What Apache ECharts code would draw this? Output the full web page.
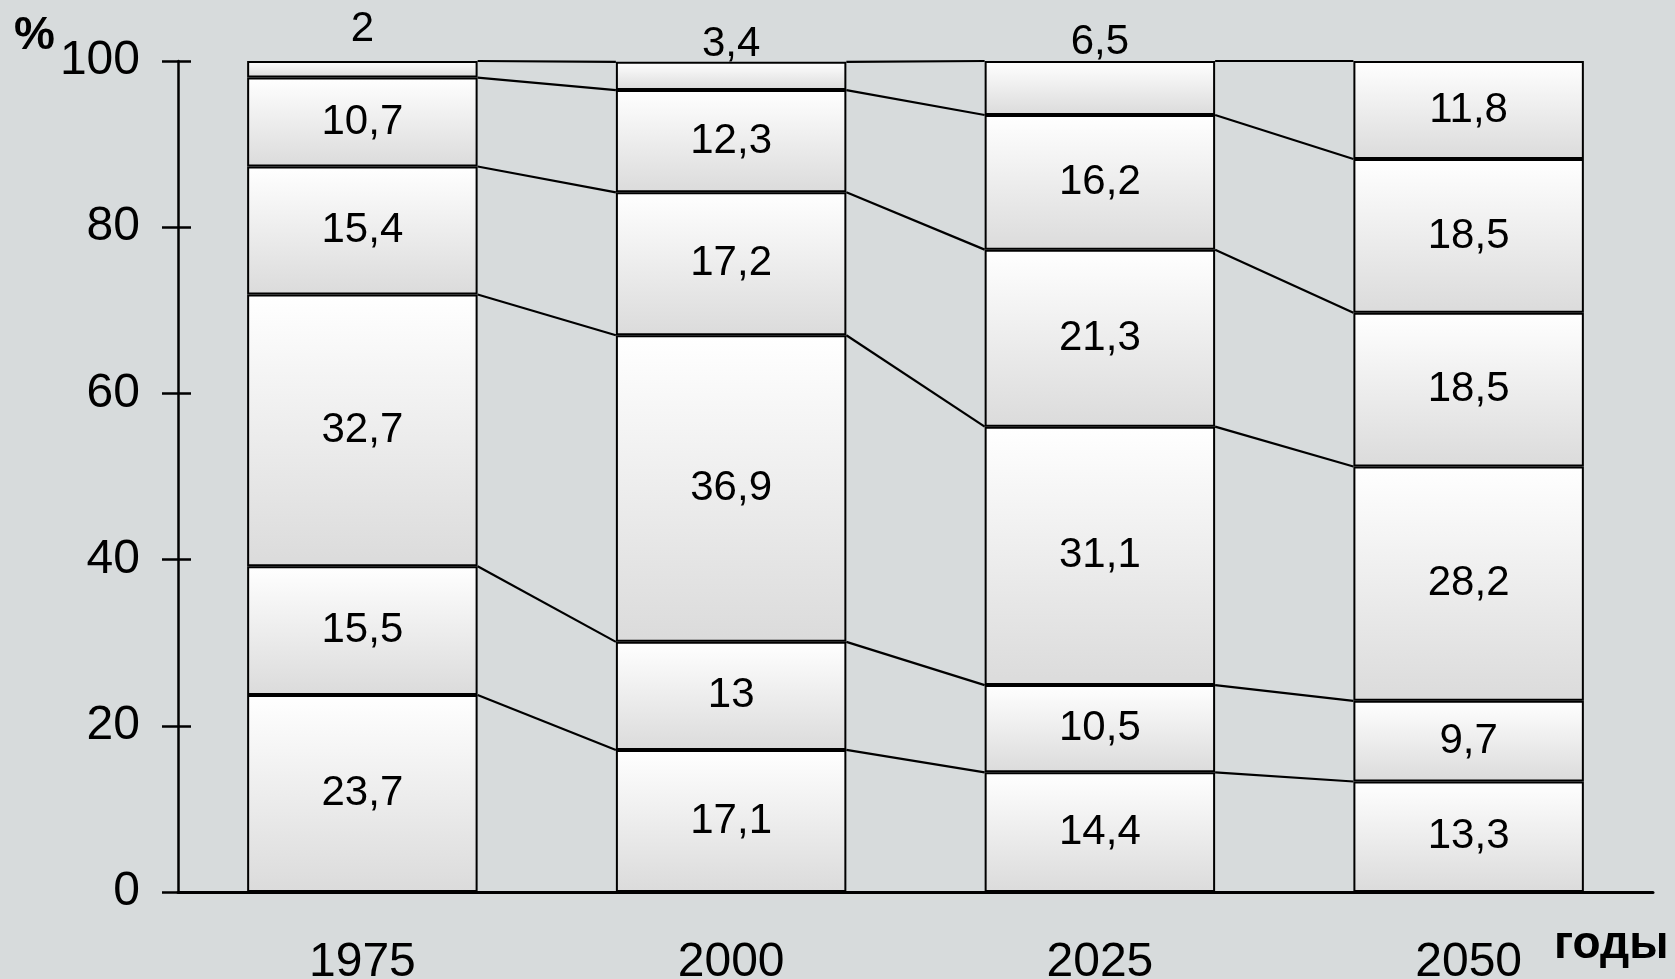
<!DOCTYPE html>
<html>
<head>
<meta charset="utf-8">
<script src="https://cdn.jsdelivr.net/npm/echarts@6/dist/echarts.min.js"></script>
<style>
  html, body { margin: 0; padding: 0; background: #d7dbdc; }
  #chart { width: 1675px; height: 979px; }
</style>
</head>
<body>
<div id="chart"></div>
<script>
// Years on the category axis
const years = ['1975', '2000', '2025', '2050'];

// Stacked shares, %, from the bottom segment to the top segment
const seg1 = [23.7, 17.1, 14.4, 13.3];
const seg2 = [15.5, 13, 10.5, 9.7];
const seg3 = [32.7, 36.9, 31.1, 28.2];
const seg4 = [15.4, 17.2, 21.3, 18.5];
const seg5 = [10.7, 12.3, 16.2, 18.5];
const seg6 = [2, 3.4, 6.5, 11.8];

// Value axis ticks
const yTicks = [0, 20, 40, 60, 80, 100];

const segments = [seg1, seg2, seg3, seg4, seg5, seg6];
const BAR_RATIO = 0.625;
const FONT = '"Liberation Sans", Arial, sans-serif';

const fmt = v => String(v).replace('.', ',');

const barFill = {
  type: 'linear', x: 0, y: 0, x2: 0, y2: 1,
  colorStops: [
    { offset: 0, color: '#ffffff' },
    { offset: 1, color: '#dbdbdb' }
  ]
};

// Small top segments carry their labels above the column
const topLabelDistance = [11, -4, -2, null];

const barSeries = segments.map((arr, si) => ({
  type: 'bar',
  stack: 'total',
  barWidth: (BAR_RATIO * 100) + '%',
  itemStyle: { color: barFill, borderColor: '#000', borderWidth: 2 },
  label: {
    show: true,
    position: 'inside',
    formatter: p => fmt(p.value),
    fontSize: 42,
    fontFamily: FONT,
    color: '#000'
  },
  emphasis: { disabled: true },
  data: arr.map((v, ci) => {
    if (si === segments.length - 1 && topLabelDistance[ci] !== null) {
      return { value: v, label: { position: 'top', distance: topLabelDistance[ci] } };
    }
    return v;
  })
}));

// Connector lines between neighbouring columns at every stack boundary
const cumulative = years.map((_, ci) => {
  const out = [0];
  let s = 0;
  segments.forEach(arr => { s += arr[ci]; out.push(+s.toFixed(2)); });
  return out;
});
const connectorData = [];
for (let ci = 0; ci < years.length - 1; ci++) {
  for (let k = 1; k < cumulative[ci].length; k++) {
    connectorData.push([ci, cumulative[ci][k], cumulative[ci + 1][k]]);
  }
}

const connectorSeries = {
  type: 'custom',
  silent: true,
  z: 3,
  data: connectorData,
  encode: { x: 0, y: [1, 2] },
  renderItem: (params, api) => {
    const ci = api.value(0);
    const a = api.coord([ci, api.value(1)]);
    const b = api.coord([ci + 1, api.value(2)]);
    const half = api.size([1, 0])[0] * BAR_RATIO / 2;
    return {
      type: 'line',
      shape: { x1: a[0] + half, y1: a[1], x2: b[0] - half, y2: b[1] },
      style: { stroke: '#000', lineWidth: 2.2 }
    };
  }
};

const chart = echarts.init(document.getElementById('chart'), null, { renderer: 'canvas' });
chart.setOption({
  backgroundColor: '#d7dbdc',
  animation: false,
  grid: { left: 178, right: 22, top: 61, bottom: 87, containLabel: false, outerBoundsMode: 'none' },
  xAxis: {
    type: 'category',
    data: years,
    axisLine: { lineStyle: { color: '#000', width: 3 } },
    axisTick: { show: false },
    axisLabel: { fontSize: 48, fontFamily: FONT, color: '#000', margin: 47 },
    splitLine: { show: false }
  },
  yAxis: [
    {
      type: 'value',
      min: yTicks[0],
      max: yTicks[yTicks.length - 1],
      interval: yTicks[1] - yTicks[0],
      axisLine: { show: true, lineStyle: { color: '#000', width: 2.5 } },
      axisTick: { show: true, length: 16, lineStyle: { color: '#000', width: 2.5 } },
      axisLabel: { fontSize: 48, fontFamily: FONT, color: '#000', margin: 38 },
      splitLine: { show: false }
    },
    {
      type: 'value',
      position: 'left',
      min: yTicks[0],
      max: yTicks[yTicks.length - 1],
      interval: yTicks[1] - yTicks[0],
      axisLine: { show: false },
      axisTick: { show: true, inside: true, length: 13, lineStyle: { color: '#000', width: 2.5 } },
      axisLabel: { show: false },
      splitLine: { show: false }
    }
  ],
  graphic: [
    {
      type: 'text', left: 14, top: 13,
      style: { text: '%', font: 'bold 46px ' + FONT, fill: '#000' }
    },
    {
      type: 'text', x: 1554, y: 945,
      style: { text: 'годы', font: 'bold 46px ' + FONT, fill: '#000', verticalAlign: 'middle' }
    }
  ],
  series: [...barSeries, connectorSeries]
});
</script>
</body>
</html>
